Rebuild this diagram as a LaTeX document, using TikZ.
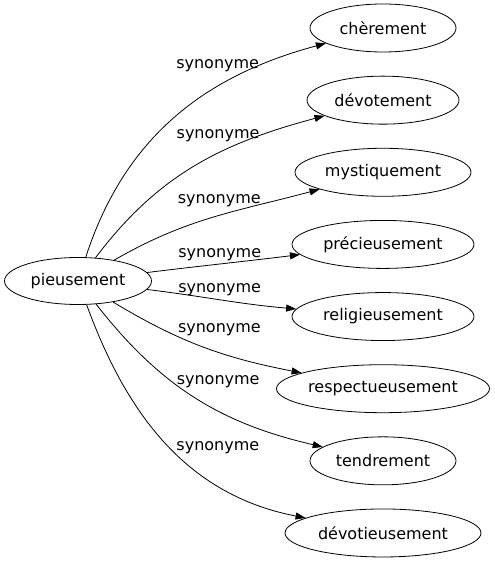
\documentclass[tikz,border=0pt]{standalone}
\usepackage{fontspec}
\setmainfont{DejaVu Sans}
\usetikzlibrary{arrows.meta,shapes.geometric,positioning}

\tikzset{
    word/.style={draw,ellipse,inner sep=0pt,minimum height=48pt,
        font=\fontsize{16}{19}\selectfont},
    syn/.style={font=\fontsize{16}{19}\selectfont,inner sep=0pt,yshift=-3pt}
}

\begin{document}
\begin{tikzpicture}[->,>={Triangle[length=10pt,width=7pt]},line width=0.8pt,
        auto,node distance=72.14pt,x=1pt,y=1pt]

    \useasboundingbox (0,0) rectangle (495,563);

    \node[word,minimum width=147pt,minimum height=47pt] (pieusement) at (78,282) {pieusement};

    \node[word,minimum width=146pt] (cherement) at (383,535) {chèrement};
    \node[word,minimum width=152pt] (devotement) [below of=cherement] {dévotement};
    \node[word,minimum width=176pt] (mystiquement) [below of=devotement] {mystiquement};
    \node[word,minimum width=182pt] (precieusement) [below of=mystiquement] {précieusement};
    \node[word,minimum width=182pt] (religieusement) [below of=precieusement] {religieusement};
    \node[word,minimum width=213pt] (respectueusement) [below of=religieusement] {respectueusement};
    \node[word,minimum width=146pt] (tendrement) [below of=respectueusement] {tendrement};
    \node[word,minimum width=196pt] (devotieusement) [below of=tendrement] {dévotieusement};

    \path (pieusement) edge[out=72,in=195]   node[syn,pos=.805,yshift=-3pt] {synonyme} (cherement);
    \path (pieusement) edge[out=53,in=195]   node[syn,pos=.77,yshift=-3pt] {synonyme} (devotement);
    \path (pieusement) edge[out=30,in=195]   node[syn,pos=.74] {synonyme} (mystiquement);
    \path (pieusement) edge[out=7,in=187]    node[syn,pos=.765,yshift=1pt] {synonyme} (precieusement);
    \path (pieusement) edge[out=-7,in=175]   node[syn,pos=.19] {synonyme} (religieusement);
    \path (pieusement) edge[out=-31,in=169]  node[syn,pos=.35,yshift=3pt] {synonyme} (respectueusement);
    \path (pieusement) edge[out=-52,in=167]  node[syn,pos=.41] {synonyme} (tendrement);
    \path (pieusement) edge[out=-70,in=169]  node[syn,pos=.54,yshift=2pt] {synonyme} (devotieusement);

\end{tikzpicture}
\end{document}
